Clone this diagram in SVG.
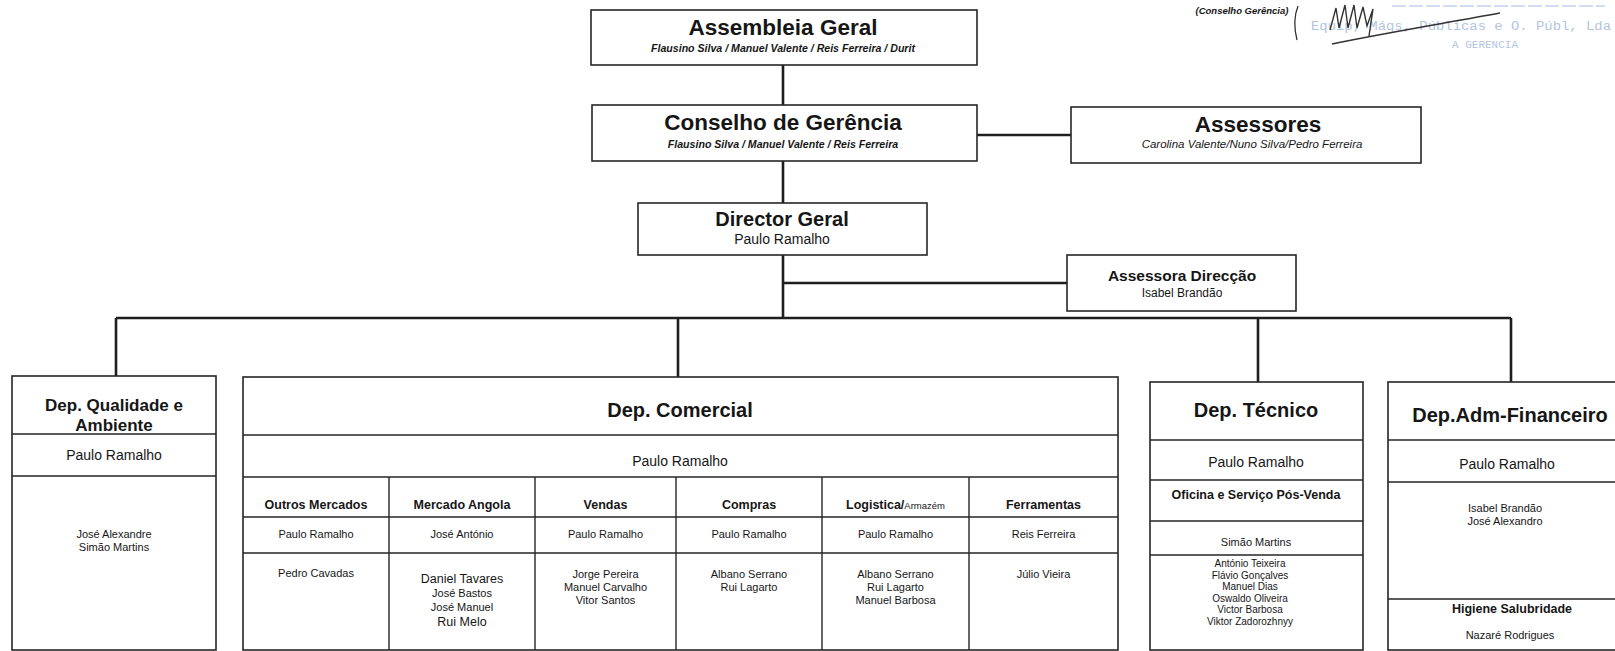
<svg xmlns="http://www.w3.org/2000/svg" width="1615" height="651" viewBox="0 0 1615 651">
<style>
text{font-family:"Liberation Sans",Arial,sans-serif;fill:#161616;text-anchor:middle}
.box{fill:#fff;stroke:#262626;stroke-width:1.6}
.div{stroke:#262626;stroke-width:1.4;fill:none}
.conn{stroke:#1e1e1e;stroke-width:2.6;fill:none}
.t22{font-size:22.5px;font-weight:bold}
.t20{font-size:20px;font-weight:bold}
.t17{font-size:17px;font-weight:bold}
.t15{font-size:15.5px;font-weight:bold}
.sub{font-size:10.6px;font-style:italic;font-weight:bold}
.subn{font-size:11.5px;font-style:italic}
.n14{font-size:14px}
.n12{font-size:12px}
.n11{font-size:11px}
.n10{font-size:10px}
.h12{font-size:12.5px;font-weight:bold}
.b125{font-size:12.5px}
.stamp{font-family:"Liberation Mono","DejaVu Sans Mono",monospace;fill:#b3c4e3;font-size:12px}
</style>
<rect width="1615" height="651" fill="#fff"/>

<g id="connectors">
<path class="conn" d="M783,65V105M783,161V203M783,255V318M977,135H1071M783,283H1067M116,318H1511M116,318V376M678,318V377M1258,318V382M1511,318V382"/>
</g>

<g id="assembleia">
<rect class="box" x="591" y="10" width="386" height="55"/>
<text class="t22" x="783" y="35">Assembleia Geral</text>
<text class="sub" x="783" y="52">Flausino Silva / Manuel Valente / Reis Ferreira / Durit</text>
</g>

<g id="conselho">
<rect class="box" x="592" y="105" width="385" height="56"/>
<text class="t22" x="783" y="130">Conselho de Gerência</text>
<text class="sub" x="783" y="148">Flausino Silva / Manuel Valente / Reis Ferreira</text>
</g>

<g id="assessores">
<rect class="box" x="1071" y="107" width="350" height="56"/>
<text class="t22" x="1258" y="132">Assessores</text>
<text class="subn" x="1252" y="148">Carolina Valente/Nuno Silva/Pedro Ferreira</text>
</g>

<g id="director">
<rect class="box" x="638" y="203" width="289" height="52"/>
<text class="t20" x="782" y="226">Director Geral</text>
<text class="n14" x="782" y="244">Paulo Ramalho</text>
</g>

<g id="assessora">
<rect class="box" x="1067" y="255" width="229" height="56"/>
<text class="t15" x="1182" y="281">Assessora Direcção</text>
<text class="n12" x="1182" y="297">Isabel Brandão</text>
</g>

<g id="dep-qualidade">
<rect class="box" x="12" y="376" width="204" height="274"/>
<path class="div" d="M12,434H216M12,476H216"/>
<text class="t17" x="114" y="411">Dep. Qualidade e</text>
<text class="t17" x="114" y="431">Ambiente</text>
<text class="n14" x="114" y="460">Paulo Ramalho</text>
<text class="n11" x="114" y="538">José Alexandre</text>
<text class="n11" x="114" y="551">Simão Martins</text>
</g>

<g id="dep-comercial">
<rect class="box" x="243" y="377" width="875" height="273"/>
<path class="div" d="M243,435H1118M243,477H1118M243,517H1118M243,553H1118M389,477V650M535,477V650M676,477V650M822,477V650M969,477V650"/>
<text class="t20" x="680" y="417">Dep. Comercial</text>
<text class="n14" x="680" y="466">Paulo Ramalho</text>
<text class="h12" x="316" y="509">Outros Mercados</text>
<text class="h12" x="462" y="509">Mercado Angola</text>
<text class="h12" x="605.5" y="509">Vendas</text>
<text class="h12" x="749" y="509">Compras</text>
<text class="h12" x="895.5" y="509">Logistica/<tspan style="font-size:9.5px;font-weight:normal">Armazém</tspan></text>
<text class="h12" x="1043.5" y="509">Ferramentas</text>
<text class="n11" x="316" y="538">Paulo Ramalho</text>
<text class="n11" x="462" y="538">José António</text>
<text class="n11" x="605.5" y="538">Paulo Ramalho</text>
<text class="n11" x="749" y="538">Paulo Ramalho</text>
<text class="n11" x="895.5" y="538">Paulo Ramalho</text>
<text class="n11" x="1043.5" y="538">Reis Ferreira</text>
<text class="n11" x="316" y="577">Pedro Cavadas</text>
<text class="b125" x="462" y="583">Daniel Tavares</text>
<text class="n11" x="462" y="597">José Bastos</text>
<text class="n11" x="462" y="611">José Manuel</text>
<text class="b125" x="462" y="626">Rui Melo</text>
<text class="n11" x="605.5" y="578">Jorge Pereira</text>
<text class="n11" x="605.5" y="591">Manuel Carvalho</text>
<text class="n11" x="605.5" y="604">Vitor Santos</text>
<text class="n11" x="749" y="578">Albano Serrano</text>
<text class="n11" x="749" y="591">Rui Lagarto</text>
<text class="n11" x="895.5" y="578">Albano Serrano</text>
<text class="n11" x="895.5" y="591">Rui Lagarto</text>
<text class="n11" x="895.5" y="604">Manuel Barbosa</text>
<text class="n11" x="1043.5" y="578">Júlio Vieira</text>
</g>

<g id="dep-tecnico">
<rect class="box" x="1150" y="382" width="213" height="268"/>
<path class="div" d="M1150,440H1363M1150,480H1363M1150,521H1363M1150,555H1363"/>
<text class="t20" x="1256" y="417">Dep. Técnico</text>
<text class="n14" x="1256" y="467">Paulo Ramalho</text>
<text class="h12" x="1256" y="499">Oficina e Serviço Pós-Venda</text>
<text class="n11" x="1256" y="546">Simão Martins</text>
<text class="n10" x="1250" y="567">António Teixeira</text>
<text class="n10" x="1250" y="578.5">Flávio Gonçalves</text>
<text class="n10" x="1250" y="590">Manuel Dias</text>
<text class="n10" x="1250" y="601.5">Oswaldo Oliveira</text>
<text class="n10" x="1250" y="613">Victor Barbosa</text>
<text class="n10" x="1250" y="624.5">Viktor Zadorozhnyy</text>
</g>

<g id="dep-adm">
<rect class="box" x="1388" y="382" width="245" height="268"/>
<path class="div" d="M1388,440H1633M1388,482H1633M1388,599H1633"/>
<text class="t20" x="1510" y="422">Dep.Adm-Financeiro</text>
<text class="n14" x="1507" y="469">Paulo Ramalho</text>
<text class="n11" x="1505" y="512">Isabel Brandão</text>
<text class="n11" x="1505" y="525">José Alexandro</text>
<text class="h12" x="1512" y="613">Higiene Salubridade</text>
<text class="n11" x="1510" y="639">Nazaré Rodrigues</text>
</g>

<g id="stamp">
<text x="1242" y="14" style="font-size:9.5px;font-style:italic;font-weight:bold">(Conselho Gerência)</text>
<path d="M1392,6H1605" fill="none" stroke="#c3d1ea" stroke-width="1.5" stroke-dasharray="14 3"/>
<text class="stamp" x="1461" y="30" textLength="300" lengthAdjust="spacingAndGlyphs">Equip, Máqs, Públicas e O. Públ, Lda</text>
<text class="stamp" x="1485" y="48" style="font-size:11px" textLength="66" lengthAdjust="spacingAndGlyphs">A GERENCIA</text>
<path d="M1298,6C1294,16 1294,28 1297,40" fill="none" stroke="#333" stroke-width="1.3"/>
<path d="M1332,44C1380,34 1440,24 1500,13" fill="none" stroke="#333" stroke-width="1.6"/>
<path d="M1330,30L1336,8L1339,28L1345,5L1348,28L1354,5L1357,28L1363,7L1367,26L1373,9L1369,36" fill="none" stroke="#333" stroke-width="1.4"/>
</g>
</svg>
